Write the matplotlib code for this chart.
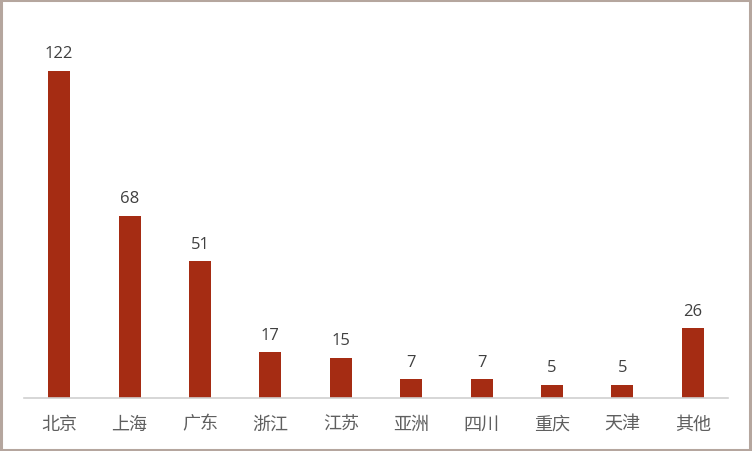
import matplotlib
matplotlib.use('Agg')
import matplotlib.pyplot as plt
from matplotlib.patches import Rectangle

plt.rcParams['font.family'] = ['Noto Sans CJK SC', 'DejaVu Sans']

regions = ['北京', '上海', '广东', '浙江', '江苏', '亚洲', '四川', '重庆', '天津', '其他']
counts = [122, 68, 51, 17, 15, 7, 7, 5, 5, 26]

bar_color = '#A52C13'

fig = plt.figure(figsize=(7.52, 4.52), dpi=100)
ax = fig.add_axes([24 / 752, 53 / 452, 704 / 752, 379 / 452])

x = range(len(regions))
bars = ax.bar(x, counts, width=0.31, color=bar_color)

for b, v in zip(bars, counts):
    ax.annotate(str(v), (b.get_x() + b.get_width() / 2, v),
                xytext=(0, 7), textcoords='offset points',
                ha='center', va='bottom', fontsize=12, color='#404040',
                family=['Open Sans', 'DejaVu Sans'])

ax.set_xlim(-0.5, len(regions) - 0.5)
ax.set_ylim(0, 379 / 2.68)
ax.set_xticks(list(x))
ax.set_xticklabels(regions, fontsize=13, color='#5F5F5F')
ax.tick_params(axis='x', length=0, pad=12)
ax.set_yticks([])
for s in ['top', 'right', 'left']:
    ax.spines[s].set_visible(False)
ax.spines['bottom'].set_color('#D0D0D0')
ax.spines['bottom'].set_linewidth(1.2)

# outer frame
fig.patches.append(Rectangle((0.001, 0.002), 0.997, 0.995, transform=fig.transFigure,
                             fill=False, edgecolor='#B5A69E', linewidth=2.2))

fig.savefig('out.png', dpi=100)
